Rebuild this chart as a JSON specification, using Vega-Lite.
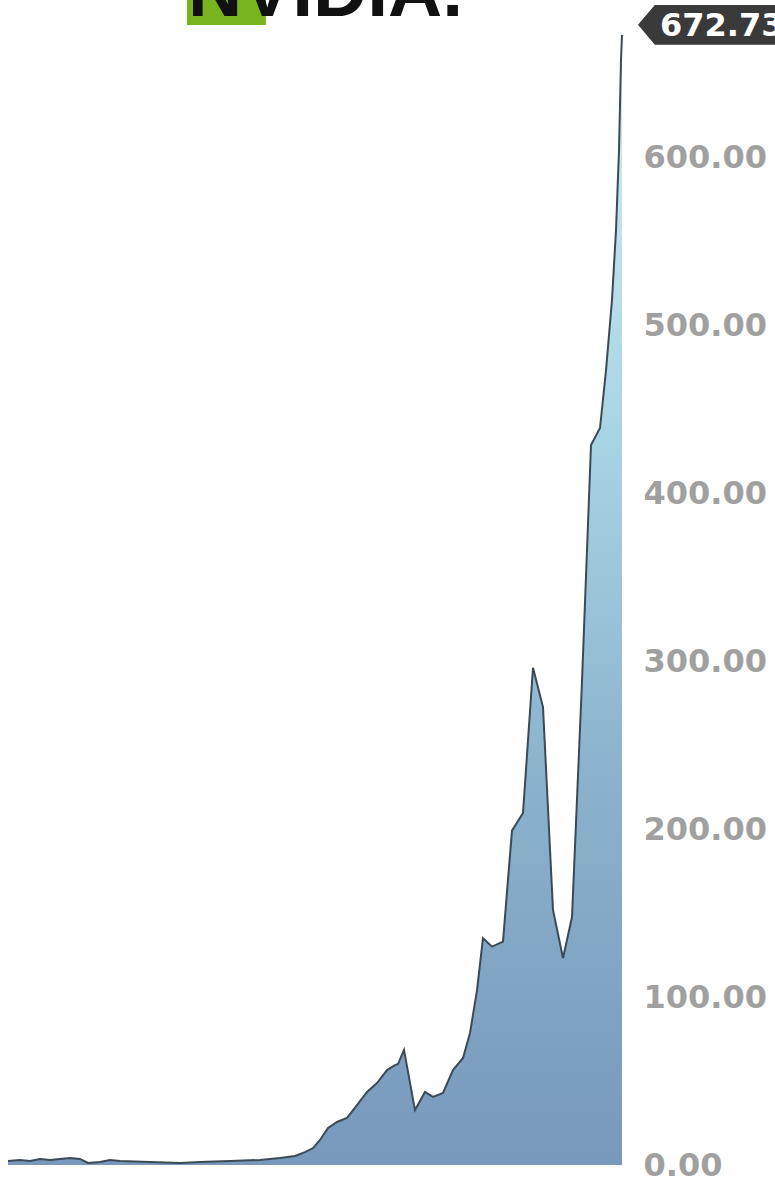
{
  "$schema": "https://vega.github.io/schema/vega-lite/v6.json",
  "autosize": {"type": "none"},
  "padding": {"left": 8, "top": 5, "right": 153, "bottom": 13},
  "width": 614,
  "height": 1160,
  "background": "white",
  "title": {
    "text": "█",
    "font": "DejaVu Sans",
    "fontSize": 100,
    "color": "#78b41e",
    "subtitle": "\u00a0\u00a0\u00a0\u00a0NVIDIA.",
    "subtitleFont": "Liberation Sans",
    "subtitleFontWeight": "bold",
    "subtitleFontSize": 75,
    "subtitleColor": "#111111",
    "subtitlePadding": -84,
    "anchor": "start",
    "dx": 184,
    "offset": -106,
    "baseline": "alphabetic"
  },
  "config": {"view": {"stroke": null}},
  "data": {
    "values": [
      {"t": 0, "price": 2.4},
      {"t": 12, "price": 3.0},
      {"t": 22, "price": 2.4},
      {"t": 32, "price": 3.6},
      {"t": 42, "price": 3.0},
      {"t": 52, "price": 3.6},
      {"t": 62, "price": 4.2},
      {"t": 72, "price": 3.6},
      {"t": 80, "price": 1.2},
      {"t": 92, "price": 1.8},
      {"t": 102, "price": 3.0},
      {"t": 112, "price": 2.4},
      {"t": 142, "price": 1.8},
      {"t": 172, "price": 1.2},
      {"t": 192, "price": 1.8},
      {"t": 222, "price": 2.4},
      {"t": 252, "price": 3.0},
      {"t": 272, "price": 4.2},
      {"t": 287, "price": 5.4},
      {"t": 297, "price": 7.7},
      {"t": 305, "price": 10.1},
      {"t": 312, "price": 14.9},
      {"t": 320, "price": 22.0},
      {"t": 329, "price": 25.6},
      {"t": 339, "price": 28.0},
      {"t": 349, "price": 35.7},
      {"t": 359, "price": 43.5},
      {"t": 369, "price": 48.8},
      {"t": 379, "price": 56.5},
      {"t": 387, "price": 59.5},
      {"t": 390, "price": 60.1},
      {"t": 396, "price": 68.5},
      {"t": 407, "price": 32.7},
      {"t": 417, "price": 43.5},
      {"t": 425, "price": 40.5},
      {"t": 435, "price": 42.9},
      {"t": 445, "price": 56.5},
      {"t": 455, "price": 63.7},
      {"t": 462, "price": 78.6},
      {"t": 469, "price": 104.0},
      {"t": 475, "price": 135.0},
      {"t": 484, "price": 130.0},
      {"t": 495, "price": 133.0},
      {"t": 500, "price": 170.0},
      {"t": 504, "price": 199.0},
      {"t": 515, "price": 209.5},
      {"t": 525, "price": 296.0},
      {"t": 535, "price": 272.6},
      {"t": 545, "price": 151.8},
      {"t": 555, "price": 123.2},
      {"t": 564, "price": 147.6},
      {"t": 574, "price": 288.0},
      {"t": 583, "price": 428.6},
      {"t": 592, "price": 438.7},
      {"t": 598, "price": 473.0},
      {"t": 604, "price": 515.0},
      {"t": 608, "price": 556.5},
      {"t": 611, "price": 604.0},
      {"t": 613, "price": 657.7},
      {"t": 614, "price": 672.73}
    ]
  },
  "encoding": {
    "x": {"field": "t", "type": "quantitative", "scale": {"domain": [0, 614], "nice": false, "zero": false}, "axis": null},
    "y": {
      "field": "price",
      "type": "quantitative",
      "scale": {"domain": [0, 690.5], "nice": false},
      "axis": {
        "orient": "right",
        "values": [0, 100, 200, 300, 400, 500, 600],
        "format": ".2f",
        "title": null,
        "domain": false,
        "ticks": false,
        "grid": false,
        "labelPadding": 21,
        "labelFont": "DejaVu Sans",
        "labelFontWeight": "bold",
        "labelFontSize": 32,
        "labelColor": "#a0a0a0",
        "labelOverlap": false,
        "labelBound": false,
        "labelAlign": "left"
      }
    }
  },
  "layer": [
    {
      "mark": {
        "type": "area",
        "fill": {
          "gradient": "linear",
          "x1": 0, "y1": 0, "x2": 0, "y2": 1,
          "stops": [
            {"offset": 0, "color": "#d4eef4"},
            {"offset": 0.35, "color": "#a8d5e4"},
            {"offset": 0.65, "color": "#8bb3cd"},
            {"offset": 1, "color": "#7898bc"}
          ]
        },
        "opacity": 1,
        "line": {"color": "#3c4a55", "strokeWidth": 2}
      }
    },
    {
      "transform": [{"filter": "datum.t == 614"}],
      "mark": {
        "type": "point",
        "shape": "M-1,0L-0.76,-0.285L1,-0.285L1,0.285L-0.76,0.285Z",
        "size": 19600,
        "filled": true,
        "fill": "#3a3a3a",
        "opacity": 1,
        "xOffset": 86,
        "yOffset": -10
      }
    },
    {
      "transform": [{"filter": "datum.t == 614"}],
      "mark": {
        "type": "text",
        "align": "left",
        "baseline": "middle",
        "dx": 38,
        "dy": -9,
        "font": "DejaVu Sans",
        "fontWeight": "bold",
        "fontSize": 32,
        "color": "#ffffff"
      },
      "encoding": {"text": {"field": "price", "type": "quantitative", "format": ".2f"}}
    }
  ]
}
